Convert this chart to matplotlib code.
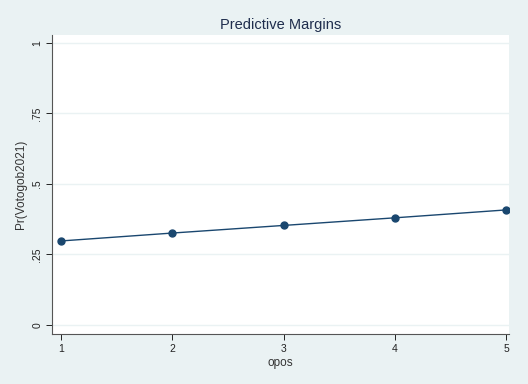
import matplotlib.pyplot as plt

plt.rcParams['font.family'] = ['Liberation Sans', 'DejaVu Sans']

opos = [1, 2, 3, 4, 5]
margins = [0.298, 0.326, 0.353, 0.380, 0.408]
yticks = [0, 0.25, 0.5, 0.75, 1]
ylabels = ['0', '.25', '.5', '.75', '1']

bg = '#eaf2f3'
navy = '#1a476f'

fig = plt.figure(figsize=(5.28, 3.84), dpi=100, facecolor=bg)
ax = fig.add_axes([0.0985, 0.130, 0.866, 0.779])
ax.set_facecolor('white')

ax.plot(opos, margins, color=navy, linewidth=1, marker='o', markersize=5, zorder=3)

ax.set_xlim(0.919, 5.027)
ax.set_ylim(-0.032, 1.028)
ax.set_xticks(opos)
ax.set_yticks(yticks)
ax.set_yticklabels(ylabels, rotation=90, va='center')
ax.grid(axis='y', color=bg, linewidth=1)
ax.set_axisbelow(True)

for s in ['top', 'right']:
    ax.spines[s].set_visible(False)
for s in ['left', 'bottom']:
    ax.spines[s].set_color('#555555')
    ax.spines[s].set_linewidth(0.8)
ax.tick_params(colors='#222222', labelsize=7.5, length=4, width=0.7, pad=3)

ax.set_xlabel('opos', fontsize=8.5, color='#333333', labelpad=2)
ax.set_ylabel('Pr(Votogob2021)', fontsize=8.5, color='#333333', labelpad=4)
ax.set_title('Predictive Margins', fontsize=10.5, color='#1f2d4d', pad=4)

fig.savefig('out.png', dpi=100, facecolor=bg)
